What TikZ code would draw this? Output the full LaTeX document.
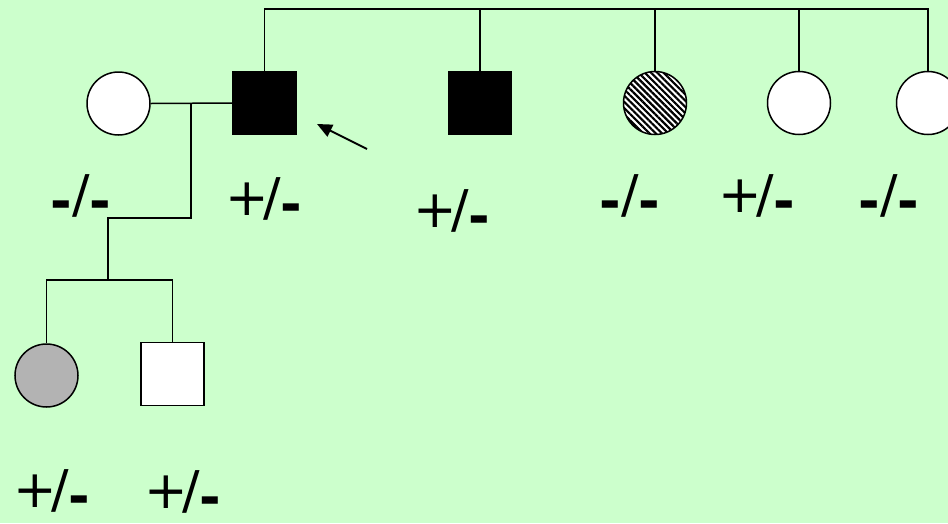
\documentclass[tikz,border=0pt]{standalone}
\usepackage{fontspec}
\setmainfont{DejaVu Sans}
\usetikzlibrary{arrows.meta,patterns.meta}
\definecolor{bg}{HTML}{CCFFCC}
\definecolor{affgrey}{HTML}{B3B3B3}
\newcommand\hdash{\raisebox{-7pt}{\bfseries -}}
\newcommand\gpl{+\kern-6pt}
\begin{document}
\begin{tikzpicture}[x=1pt,y=-1pt,
  ln/.style={line width=1.5pt,black},
  fem/.style={circle,draw=black,line width=1.5pt,fill=white,minimum size=63pt,inner sep=0pt},
  mal/.style={rectangle,draw=black,line width=1.5pt,fill=white,minimum size=63pt,inner sep=0pt},
  lbl/.style={anchor=base,inner sep=0pt,font=\fontsize{52}{60}\selectfont}]
\fill[bg] (0,0) rectangle (948,523);
\useasboundingbox (0,0) rectangle (948,523);
% generation I/II
\node[fem] (w1) at (118.5,103.5) {};
\node[mal,fill=black] (m1) at (264.5,103) {};
\node[mal,fill=black] (m2) at (480,103) {};
\node[fem,postaction={pattern={Lines[angle=-45,distance=4.4pt,line width=2.2pt]}}] (f2) at (655,103) {};
\node[fem] (f3) at (799,103) {};
\node[fem] (f4) at (928,103) {};
% children
\node[fem,fill=affgrey] (d1) at (46.5,375.5) {};
\node[mal] (s1) at (172.5,374) {};
% coordinates
\coordinate (t) at (0,9);
\coordinate (mc) at (191,103);
\coordinate (c1) at (108,218);
\coordinate (sib) at (108,280);
\coordinate (atail) at (367,149);
\coordinate (ahead) at (317,124);
% sibship top
\draw[ln] (m1.north) -- (m1.north |- t) -- (f4.north |- t) -- (f4.north);
\draw[ln] (m2.north) -- (m2.north |- t);
\draw[ln] (f2.north) -- (f2.north |- t);
\draw[ln] (f3.north) -- (f3.north |- t);
% marriage and descent
\draw[ln] (w1.east) -- (m1.west);
\draw[ln] (mc) |- (c1) -- (sib);
\draw[ln] (d1.north) -- (d1.north |- sib) -- (s1.north |- sib) -- (s1.north);
% proband arrow
\draw[line width=2pt,-{Triangle[length=15pt,width=13pt]}] (atail) -- (ahead);
% genotype labels
\node[lbl] (g1) at (81,212) {\hdash/\hdash};
\node[lbl] (g2) at (264,215) {\gpl/\hdash};
\node[lbl] (g3) at (452,227) {\gpl/\hdash};
\node[lbl] (g4) at (630,212) {\hdash/\hdash};
\node[lbl] (g5) at (757,212) {\gpl/\hdash};
\node[lbl] (g6) at (889,212) {\hdash/\hdash};
\node[lbl] (g7) at (52,507) {\gpl/\hdash};
\node[lbl] (g8) at (183,508) {\gpl/\hdash};
\end{tikzpicture}
\end{document}
